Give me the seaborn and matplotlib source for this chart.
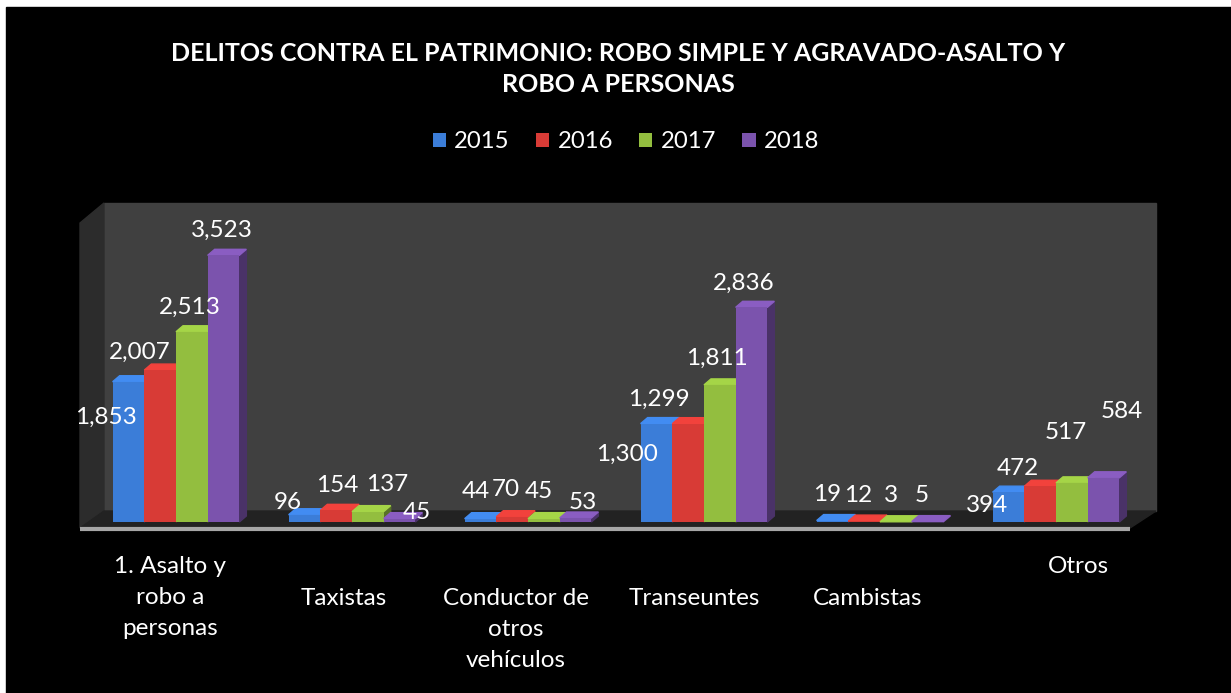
import numpy as np
import pandas as pd
import matplotlib
matplotlib.use('Agg')
import matplotlib.pyplot as plt
import matplotlib.patches as mpatches
import matplotlib.colors as mcolors
import seaborn as sns

# datos
categorias = ['1. Asalto y\nrobo a\npersonas', 'Taxistas', 'Conductor de\notros\nvehículos',
              'Transeuntes', 'Cambistas', 'Otros']
anios = ['2015', '2016', '2017', '2018']
v2015 = [1853, 96, 44, 1300, 19, 394]
v2016 = [2007, 154, 70, 1299, 12, 472]
v2017 = [2513, 137, 45, 1811, 3, 517]
v2018 = [3523, 45, 53, 2836, 5, 584]
colores = ['#3b7dd8', '#d83b36', '#93be3f', '#7b53ad']

df = pd.DataFrame({'categoria': categorias * 4,
                   'anio': np.repeat(anios, len(categorias)),
                   'valor': v2015 + v2016 + v2017 + v2018})

# desplazamiento de cada etiqueta respecto a la cima de su barra (px), como lo coloca Excel
desfase_etq = [(-23, 36), (-20, -18), (-2, -24), (-2, -25),
               (-17, -12), (1, -25), (19, -27), (17, -6),
               (-5, -27), (-6, -27), (-5, -27), (7, -15),
               (-29, 31), (-29, -24), (-3, -27), (-8, -24),
               (-5, -26), (-6, -26), (-5, -26), (-6, -26),
               (-21, 13), (-22, -18), (-6, -50), (18, -66)]

sns.set_theme(style='white')
plt.rcParams['font.family'] = ['Lato', 'DejaVu Sans']

W, H = 1231, 693
fig = plt.figure(figsize=(W / 100, H / 100), dpi=100, facecolor='white')

# fondo tipo Excel 3D (pixeles de la figura)
bg = fig.add_axes([0, 0, 1, 1], zorder=0)
bg.set_xlim(0, W)
bg.set_ylim(H, 0)
bg.axis('off')
bg.add_patch(mpatches.Rectangle((6, 7), W - 6, H - 7, color='black'))
bg.add_patch(mpatches.Rectangle((104, 203), 1156 - 104, 511 - 203, color='#404040'))
bg.add_patch(mpatches.Polygon([(80, 223), (104, 203), (104, 511), (80, 528)], color='#2c2c2c'))
bg.add_patch(mpatches.Polygon([(80, 528), (104, 511), (1156, 511), (1130, 528)], color='#222222'))
bg.plot([80, 1130], [529, 529], color='#a6a6a6', lw=3, solid_capstyle='butt')

# plano frontal de las barras
ax_left, ax_w, ax_bottom, ymax = 88, 1056, 522, 4000
px_por_valor = 0.0757
ax_h = ymax * px_por_valor
ax = fig.add_axes([ax_left / W, (H - ax_bottom) / H, ax_w / W, ax_h / H], zorder=1)
ax.set_facecolor('none')

sns.barplot(data=df, x='categoria', y='valor', hue='anio', palette=colores,
            width=0.72, gap=0, saturation=1, linewidth=0, ax=ax)
ax.set_xlim(-0.5, len(categorias) - 0.5)
ax.set_ylim(0, ymax)
for s in ax.spines.values():
    s.set_visible(False)
ax.set_xticks([])
ax.set_yticks([])
ax.set_xlabel('')
ax.set_ylabel('')

# caras laterales y superiores + etiquetas de valor
pt = 0.72  # px -> pt
dx = 7 / (ax_w / len(categorias))
dy = 6 / px_por_valor
barras = sorted([p for p in ax.patches if isinstance(p, mpatches.Rectangle) and p.get_width() > 0],
                key=lambda p: p.get_x())
for i, p in enumerate(barras):
    x0, w, h = p.get_x(), p.get_width(), p.get_height()
    c = np.array(mcolors.to_rgb(p.get_facecolor()))
    z = 2 + i * 0.01
    p.set_zorder(z)
    ax.add_patch(mpatches.Polygon([(x0 + w, 0), (x0 + w + dx, dy), (x0 + w + dx, h + dy), (x0 + w, h)],
                                  color=c * 0.6, zorder=z - 0.001, clip_on=False))
    ax.add_patch(mpatches.Polygon([(x0, h), (x0 + dx, h + dy), (x0 + w + dx, h + dy), (x0 + w, h)],
                                  color=np.minimum(c * 1.12, 1), zorder=z - 0.001, clip_on=False))
    ox, oy = desfase_etq[i]
    ax.annotate(f'{h:,.0f}', (x0 + w / 2, h), xytext=(ox * pt, -oy * pt), textcoords='offset points',
                ha='center', va='center', color='white', fontsize=17.5, zorder=10,
                annotation_clip=False)

# etiquetas de categorias
fila_inicio = [-1, 0, 0, 0, 0, -1]
desfase_x = [-6, -8, -12, -10, -12, 22]
for i, lab in enumerate(categorias):
    ax.annotate(lab, (i, 0), xytext=(desfase_x[i] * pt, (-66 - 32 * fila_inicio[i]) * pt),
                textcoords='offset points', ha='center', va='top', color='white',
                fontsize=17.5, linespacing=1.6, annotation_clip=False)

# leyenda
sns.move_legend(ax, 'center', bbox_to_anchor=(626 / W, 1 - 142 / H), bbox_transform=fig.transFigure,
                ncol=4, frameon=False, title=None, fontsize=17.2, labelcolor='white',
                handlelength=0.55, handleheight=0.55, handletextpad=0.35, columnspacing=1.1)

# titulo
fig.text(618 / W, 1 - 69 / H, 'DELITOS CONTRA EL PATRIMONIO: ROBO SIMPLE Y AGRAVADO-ASALTO Y\nROBO A PERSONAS',
         ha='center', va='center', color='white', fontsize=18, fontweight='bold', linespacing=1.4)

fig.savefig('out.png', dpi=100, facecolor=fig.get_facecolor())
